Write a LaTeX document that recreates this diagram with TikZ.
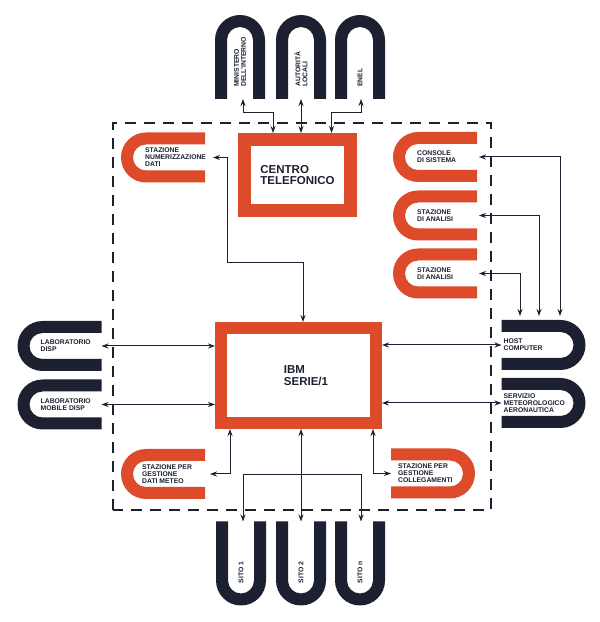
\documentclass[tikz,border=0pt]{standalone}
\usepackage{fontspec}
\setmainfont{Liberation Sans}
\usetikzlibrary{positioning,arrows.meta}
\definecolor{ibmred}{RGB}{221,75,43}
\definecolor{ink}{RGB}{28,32,48}

\begin{document}
\begin{tikzpicture}[x=1pt, y=1pt, >={Stealth[length=7pt,width=5pt]}]
    \tikzstyle{armsright} = [minimum width=84pt, minimum height=50pt, inner sep=0pt, outer sep=0pt, path picture={\fill[#1] (path picture bounding box.north east) -- ++(-59pt,0pt) arc (90:270:25pt) -- ++(59pt,0pt) -- ++(0pt,12pt) -- ++(-59pt,0pt) arc (270:90:13pt) -- ++(59pt,0pt) -- cycle;}]
    \tikzstyle{armsleft} = [minimum width=84pt, minimum height=50pt, inner sep=0pt, outer sep=0pt, path picture={\fill[#1] (path picture bounding box.north west) -- ++(59pt,0pt) arc (90:-90:25pt) -- ++(-59pt,0pt) -- ++(0pt,12pt) -- ++(59pt,0pt) arc (-90:90:13pt) -- ++(-59pt,0pt) -- cycle;}]
    \tikzstyle{armsdown} = [minimum width=50pt, minimum height=84pt, inner sep=0pt, outer sep=0pt, path picture={\fill[#1] (path picture bounding box.south west) -- ++(0pt,59pt) arc (180:0:25pt) -- ++(0pt,-59pt) -- ++(-12pt,0pt) -- ++(0pt,59pt) arc (0:180:13pt) -- ++(0pt,-59pt) -- cycle;}]
    \tikzstyle{armsup} = [minimum width=50pt, minimum height=84pt, inner sep=0pt, outer sep=0pt, path picture={\fill[#1] (path picture bounding box.north west) -- ++(0pt,-59pt) arc (180:360:25pt) -- ++(0pt,59pt) -- ++(-12pt,0pt) -- ++(0pt,-59pt) arc (0:-180:13pt) -- ++(0pt,59pt) -- cycle;}]
    \tikzstyle{lab} = [font=\bfseries\fontsize{6.8pt}{7pt}\selectfont, align=left, inner sep=0pt, text=ink]
    \tikzstyle{bigtxt} = [font=\bfseries\fontsize{11.5pt}{11.8pt}\selectfont, align=left, text=ink]
    \tikzstyle{redbox} = [draw=ibmred, line width=13pt, fill=white]
    \tikzstyle{link} = [<->, line width=1pt, draw=ink]
    \tikzstyle{dashframe} = [draw=ink, line width=1.3pt, dash pattern=on 11pt off 8pt]

    \useasboundingbox[fill=white] (0,0) rectangle (600,622);

    % Boundary of the centre
    \draw[dashframe] (113,112) rectangle (491,499);

    % Main units
    \node[redbox, bigtxt, minimum width=106pt, minimum height=71pt] (centro) at (297.5,447) {CENTRO\\TELEFONICO};
    \node[redbox, line width=12pt, minimum width=155pt, minimum height=95pt, label={[bigtxt, xshift=7.5pt]center:IBM\\SERIE/1}] (ibm) at (298.5,246.5) {};

    % Stations inside the centre
    \node[armsright=ibmred] (numer) at (163,464.5) {};
    \node[lab, right=24pt of numer.west] (tnumer) {STAZIONE\\NUMERIZZAZIONE\\DATI};
    \node[armsright=ibmred] (meteo) at (163,148) {};
    \node[lab, right=21pt of meteo.west] (tmeteo) {STAZIONE PER\\GESTIONE\\DATI METEO};
    \node[armsleft=ibmred] (colleg) at (433,148.5) {};
    \node[lab, right=7pt of colleg.west] (tcolleg) {STAZIONE PER\\GESTIONE\\COLLEGAMENTI};
    \node[armsright=ibmred] (console) at (435,465) {};
    \node[lab, right=24pt of console.west] (tconsole) {CONSOLE\\DI SISTEMA};
    \node[armsright=ibmred] (analisi1) at (435,406.5) {};
    \node[lab, right=24pt of analisi1.west] (tanalisi1) {STAZIONE\\DI ANALISI};
    \node[armsright=ibmred] (analisi2) at (435,348.5) {};
    \node[lab, right=24pt of analisi2.west] (tanalisi2) {STAZIONE\\DI ANALISI};

    % External units
    \node[armsright=ink] (labdisp) at (59.5,276) {};
    \node[lab, right=23pt of labdisp.west] (tlabdisp) {LABORATORIO\\DISP};
    \node[armsright=ink] (labmob) at (59.5,217.5) {};
    \node[lab, right=23pt of labmob.west] (tlabmob) {LABORATORIO\\MOBILE DISP};
    \node[armsleft=ink] (host) at (543.5,277) {};
    \node[lab, right=2pt of host.west] (thost) {HOST\\COMPUTER};
    \node[armsleft=ink] (meteoaer) at (543.5,219) {};
    \node[lab, right=2pt of meteoaer.west] (tmeteoaer) {SERVIZIO\\METEOROLOGICO\\AERONAUTICA};

    % Telephone users
    \node[armsdown=ink] (mini) at (240,565) {};
    \node[lab, rotate=90, anchor=west] (tmini) at ([yshift=12pt]mini.south) {MINISTERO\\DELL'INTERNO};
    \node[armsdown=ink] (auto) at (301,565) {};
    \node[lab, rotate=90, anchor=west] (tauto) at ([yshift=12pt]auto.south) {AUTORITÀ\\LOCALI};
    \node[armsdown=ink] (enel) at (360,565) {};
    \node[lab, rotate=90, anchor=west] (tenel) at ([yshift=12pt]enel.south) {ENEL};

    % Remote sites
    \node[armsup=ink] (sito1) at (241,58.5) {};
    \node[lab, rotate=90, anchor=west] (tsito1) at ([yshift=22pt]sito1.south) {SITO 1};
    \node[armsup=ink] (sito2) at (301,58.5) {};
    \node[lab, rotate=90, anchor=west] (tsito2) at ([yshift=22pt]sito2.south) {SITO 2};
    \node[armsup=ink] (siton) at (360,58.5) {};
    \node[lab, rotate=90, anchor=west] (tsiton) at ([yshift=22pt]siton.south) {SITO n};

    % Connections
    \draw[link] ([xshift=3pt]mini.south) -- ++(0,-14) -| ([xshift=-24.5pt]centro.north);
    \draw[link] (auto.south) -- (auto.south |- centro.north);
    \draw[link] ([xshift=1pt]enel.south) -- ++(0,-14) -| ([xshift=34pt]centro.north);
    \draw[link] ([xshift=8pt]numer.east) -- ++(14,0) -- ++(0,-105.5) -| ([xshift=4.5pt]ibm.north);

    \draw[link] (labdisp.east) -- (labdisp.east -| ibm.west);
    \draw[link] (labmob.east) -- (labmob.east -| ibm.west);
    \draw[link] (host.west) -- (host.west -| ibm.east);
    \draw[link] (meteoaer.west) -- (meteoaer.west -| ibm.east);

    \draw[link] ([xshift=2pt]console.east) -| ([xshift=16.5pt,yshift=4pt]host.north);
    \draw[link] ([xshift=2pt]analisi1.east) -| ([xshift=-4.5pt,yshift=4pt]host.north);
    \draw[link] ([xshift=2pt]analisi2.east) -| ([xshift=-23.5pt,yshift=4pt]host.north);

    \draw[link] ([xshift=-68.5pt]ibm.south) |- ([xshift=5pt]meteo.east);
    \draw[link] ([xshift=74.5pt]ibm.south) |- (colleg.west);
    \draw[link] (sito2.north) -- (sito2.north |- ibm.south);
    \draw[link] ([xshift=2pt]sito1.north) -- ++(0,47) -| ([xshift=1pt]siton.north);
\end{tikzpicture}
\end{document}
